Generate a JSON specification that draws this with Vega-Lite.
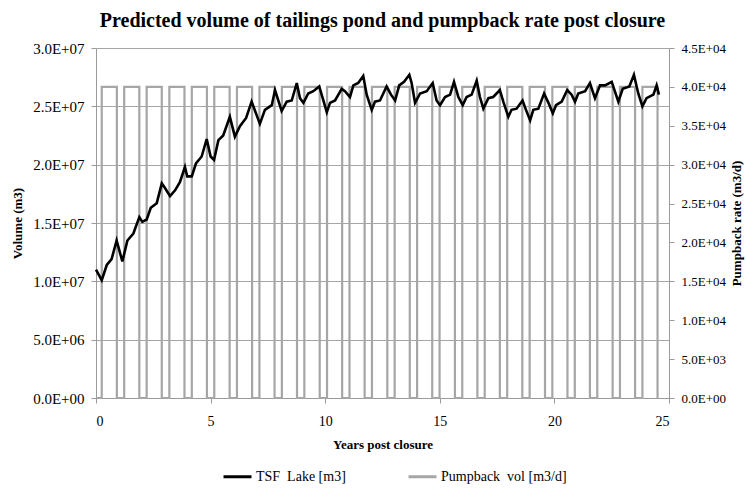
{
  "$schema": "https://vega.github.io/schema/vega-lite/v6.json",
  "autosize": {"type": "none"},
  "width": 573,
  "height": 350,
  "padding": {"left": 96, "top": 48, "right": 77, "bottom": 90},
  "background": "white",
  "title": {
    "text": "Predicted volume of tailings pond and pumpback rate post closure",
    "font": "Liberation Serif",
    "fontSize": 20,
    "fontWeight": "bold",
    "color": "black",
    "anchor": "middle",
    "offset": 10
  },
  "config": {
    "view": {"stroke": null},
    "font": "Liberation Serif",
    "axis": {
      "labelFont": "Liberation Serif",
      "labelFontSize": 14,
      "labelColor": "black",
      "titleFont": "Liberation Serif",
      "titleFontSize": 13,
      "titleFontWeight": "bold",
      "titleColor": "black",
      "domainColor": "#9a9a9a",
      "tickColor": "#9a9a9a",
      "gridColor": "#a6a6a6",
      "tickSize": 5
    },
    "legend": {
      "labelFont": "Liberation Serif",
      "labelFontSize": 14,
      "labelColor": "black"
    }
  },
  "datasets": {
    "tsf": [
      {"year": 0, "volume": 11000000}, {"year": 0.25, "volume": 10100000}, {"year": 0.47, "volume": 11400000},
      {"year": 0.68, "volume": 11900000}, {"year": 0.9, "volume": 13500000}, {"year": 1.15, "volume": 11700000},
      {"year": 1.37, "volume": 13500000}, {"year": 1.63, "volume": 14100000}, {"year": 1.89, "volume": 15500000},
      {"year": 2.02, "volume": 15100000}, {"year": 2.21, "volume": 15300000}, {"year": 2.39, "volume": 16300000},
      {"year": 2.65, "volume": 16700000}, {"year": 2.87, "volume": 18400000}, {"year": 3.01, "volume": 18000000},
      {"year": 3.23, "volume": 17300000}, {"year": 3.45, "volume": 17800000}, {"year": 3.66, "volume": 18500000},
      {"year": 3.88, "volume": 19800000}, {"year": 3.98, "volume": 19000000}, {"year": 4.18, "volume": 19000000},
      {"year": 4.36, "volume": 20100000}, {"year": 4.61, "volume": 20700000}, {"year": 4.83, "volume": 22200000},
      {"year": 5.0, "volume": 20700000}, {"year": 5.15, "volume": 20400000}, {"year": 5.34, "volume": 22100000},
      {"year": 5.55, "volume": 22500000}, {"year": 5.84, "volume": 24100000}, {"year": 6.06, "volume": 22400000},
      {"year": 6.28, "volume": 23300000}, {"year": 6.55, "volume": 24000000}, {"year": 6.79, "volume": 25400000},
      {"year": 7.15, "volume": 23500000}, {"year": 7.37, "volume": 24700000}, {"year": 7.67, "volume": 25100000},
      {"year": 7.81, "volume": 26400000}, {"year": 8.1, "volume": 24600000}, {"year": 8.32, "volume": 25400000},
      {"year": 8.54, "volume": 25500000}, {"year": 8.76, "volume": 27000000}, {"year": 8.9, "volume": 25700000},
      {"year": 9.05, "volume": 25300000}, {"year": 9.26, "volume": 26100000}, {"year": 9.48, "volume": 26300000},
      {"year": 9.74, "volume": 26700000}, {"year": 9.89, "volume": 25700000}, {"year": 10.07, "volume": 24500000},
      {"year": 10.21, "volume": 25300000}, {"year": 10.43, "volume": 25500000}, {"year": 10.72, "volume": 26500000},
      {"year": 10.86, "volume": 26300000}, {"year": 11.08, "volume": 25800000}, {"year": 11.23, "volume": 26800000},
      {"year": 11.44, "volume": 27000000}, {"year": 11.66, "volume": 27600000}, {"year": 11.81, "volume": 26000000},
      {"year": 12.03, "volume": 24700000}, {"year": 12.17, "volume": 25400000}, {"year": 12.39, "volume": 25500000},
      {"year": 12.68, "volume": 26700000}, {"year": 12.87, "volume": 26000000}, {"year": 13.05, "volume": 25500000},
      {"year": 13.23, "volume": 26800000}, {"year": 13.44, "volume": 27100000}, {"year": 13.67, "volume": 27700000},
      {"year": 13.77, "volume": 27000000}, {"year": 13.92, "volume": 25300000}, {"year": 14.14, "volume": 26100000},
      {"year": 14.43, "volume": 26300000}, {"year": 14.69, "volume": 27000000}, {"year": 14.86, "volume": 25500000},
      {"year": 15.01, "volume": 25100000}, {"year": 15.23, "volume": 25800000}, {"year": 15.45, "volume": 26000000},
      {"year": 15.62, "volume": 27100000}, {"year": 15.81, "volume": 25800000}, {"year": 16.0, "volume": 25100000},
      {"year": 16.17, "volume": 25800000}, {"year": 16.39, "volume": 26000000}, {"year": 16.61, "volume": 27200000},
      {"year": 16.75, "volume": 25800000}, {"year": 16.9, "volume": 24800000}, {"year": 17.12, "volume": 25700000},
      {"year": 17.33, "volume": 25800000}, {"year": 17.62, "volume": 26400000}, {"year": 17.77, "volume": 25400000},
      {"year": 17.99, "volume": 24100000}, {"year": 18.13, "volume": 24700000}, {"year": 18.35, "volume": 24800000},
      {"year": 18.61, "volume": 25500000}, {"year": 18.76, "volume": 24700000}, {"year": 18.94, "volume": 23800000},
      {"year": 19.08, "volume": 24700000}, {"year": 19.3, "volume": 24800000}, {"year": 19.55, "volume": 26100000},
      {"year": 19.74, "volume": 25300000}, {"year": 19.93, "volume": 24400000}, {"year": 20.07, "volume": 25100000},
      {"year": 20.32, "volume": 25400000}, {"year": 20.56, "volume": 26400000}, {"year": 20.75, "volume": 26000000},
      {"year": 20.9, "volume": 25400000}, {"year": 21.04, "volume": 26100000}, {"year": 21.34, "volume": 26300000},
      {"year": 21.55, "volume": 27000000}, {"year": 21.77, "volume": 25700000}, {"year": 21.99, "volume": 26800000},
      {"year": 22.21, "volume": 26800000}, {"year": 22.5, "volume": 27100000}, {"year": 22.79, "volume": 25400000},
      {"year": 22.98, "volume": 26500000}, {"year": 23.27, "volume": 26700000}, {"year": 23.47, "volume": 27700000},
      {"year": 23.66, "volume": 26100000}, {"year": 23.84, "volume": 25000000}, {"year": 24.02, "volume": 25700000},
      {"year": 24.32, "volume": 26000000}, {"year": 24.46, "volume": 26800000}, {"year": 24.56, "volume": 26000000}
    ],
    "pump": [
      {"i": 0, "year": 0, "rate": 0},
      {"i": 1, "year": 0.25, "rate": 0}, {"i": 2, "year": 0.25, "rate": 40000}, {"i": 3, "year": 0.91, "rate": 40000}, {"i": 4, "year": 0.91, "rate": 0},
      {"i": 5, "year": 1.23, "rate": 0}, {"i": 6, "year": 1.23, "rate": 40000}, {"i": 7, "year": 1.89, "rate": 40000}, {"i": 8, "year": 1.89, "rate": 0},
      {"i": 9, "year": 2.21, "rate": 0}, {"i": 10, "year": 2.21, "rate": 40000}, {"i": 11, "year": 2.87, "rate": 40000}, {"i": 12, "year": 2.87, "rate": 0},
      {"i": 13, "year": 3.2, "rate": 0}, {"i": 14, "year": 3.2, "rate": 40000}, {"i": 15, "year": 3.86, "rate": 40000}, {"i": 16, "year": 3.86, "rate": 0},
      {"i": 17, "year": 4.18, "rate": 0}, {"i": 18, "year": 4.18, "rate": 40000}, {"i": 19, "year": 4.84, "rate": 40000}, {"i": 20, "year": 4.84, "rate": 0},
      {"i": 21, "year": 5.16, "rate": 0}, {"i": 22, "year": 5.16, "rate": 40000}, {"i": 23, "year": 5.83, "rate": 40000}, {"i": 24, "year": 5.83, "rate": 0},
      {"i": 25, "year": 6.15, "rate": 0}, {"i": 26, "year": 6.15, "rate": 40000}, {"i": 27, "year": 6.81, "rate": 40000}, {"i": 28, "year": 6.81, "rate": 0},
      {"i": 29, "year": 7.13, "rate": 0}, {"i": 30, "year": 7.13, "rate": 40000}, {"i": 31, "year": 7.79, "rate": 40000}, {"i": 32, "year": 7.79, "rate": 0},
      {"i": 33, "year": 8.11, "rate": 0}, {"i": 34, "year": 8.11, "rate": 40000}, {"i": 35, "year": 8.77, "rate": 40000}, {"i": 36, "year": 8.77, "rate": 0},
      {"i": 37, "year": 9.09, "rate": 0}, {"i": 38, "year": 9.09, "rate": 40000}, {"i": 39, "year": 9.76, "rate": 40000}, {"i": 40, "year": 9.76, "rate": 0},
      {"i": 41, "year": 10.08, "rate": 0}, {"i": 42, "year": 10.08, "rate": 40000}, {"i": 43, "year": 10.74, "rate": 40000}, {"i": 44, "year": 10.74, "rate": 0},
      {"i": 45, "year": 11.06, "rate": 0}, {"i": 46, "year": 11.06, "rate": 40000}, {"i": 47, "year": 11.72, "rate": 40000}, {"i": 48, "year": 11.72, "rate": 0},
      {"i": 49, "year": 12.04, "rate": 0}, {"i": 50, "year": 12.04, "rate": 40000}, {"i": 51, "year": 12.71, "rate": 40000}, {"i": 52, "year": 12.71, "rate": 0},
      {"i": 53, "year": 13.03, "rate": 0}, {"i": 54, "year": 13.03, "rate": 40000}, {"i": 55, "year": 13.69, "rate": 40000}, {"i": 56, "year": 13.69, "rate": 0},
      {"i": 57, "year": 14.01, "rate": 0}, {"i": 58, "year": 14.01, "rate": 40000}, {"i": 59, "year": 14.67, "rate": 40000}, {"i": 60, "year": 14.67, "rate": 0},
      {"i": 61, "year": 14.99, "rate": 0}, {"i": 62, "year": 14.99, "rate": 40000}, {"i": 63, "year": 15.66, "rate": 40000}, {"i": 64, "year": 15.66, "rate": 0},
      {"i": 65, "year": 15.98, "rate": 0}, {"i": 66, "year": 15.98, "rate": 40000}, {"i": 67, "year": 16.64, "rate": 40000}, {"i": 68, "year": 16.64, "rate": 0},
      {"i": 69, "year": 16.96, "rate": 0}, {"i": 70, "year": 16.96, "rate": 40000}, {"i": 71, "year": 17.62, "rate": 40000}, {"i": 72, "year": 17.62, "rate": 0},
      {"i": 73, "year": 17.94, "rate": 0}, {"i": 74, "year": 17.94, "rate": 40000}, {"i": 75, "year": 18.6, "rate": 40000}, {"i": 76, "year": 18.6, "rate": 0},
      {"i": 77, "year": 18.92, "rate": 0}, {"i": 78, "year": 18.92, "rate": 40000}, {"i": 79, "year": 19.59, "rate": 40000}, {"i": 80, "year": 19.59, "rate": 0},
      {"i": 81, "year": 19.91, "rate": 0}, {"i": 82, "year": 19.91, "rate": 40000}, {"i": 83, "year": 20.57, "rate": 40000}, {"i": 84, "year": 20.57, "rate": 0},
      {"i": 85, "year": 20.89, "rate": 0}, {"i": 86, "year": 20.89, "rate": 40000}, {"i": 87, "year": 21.55, "rate": 40000}, {"i": 88, "year": 21.55, "rate": 0},
      {"i": 89, "year": 21.87, "rate": 0}, {"i": 90, "year": 21.87, "rate": 40000}, {"i": 91, "year": 22.54, "rate": 40000}, {"i": 92, "year": 22.54, "rate": 0},
      {"i": 93, "year": 22.86, "rate": 0}, {"i": 94, "year": 22.86, "rate": 40000}, {"i": 95, "year": 23.52, "rate": 40000}, {"i": 96, "year": 23.52, "rate": 0},
      {"i": 97, "year": 23.84, "rate": 0}, {"i": 98, "year": 23.84, "rate": 40000}, {"i": 99, "year": 24.5, "rate": 40000}, {"i": 100, "year": 24.5, "rate": 0}
    ]
  },
  "encoding": {
    "x": {
      "field": "year",
      "type": "quantitative",
      "scale": {"domain": [0, 25], "nice": false},
      "axis": {
        "title": "Years post closure",
        "values": [0, 5, 10, 15, 20, 25],
        "grid": false,
        "labelFont": "Liberation Serif",
        "labelFontSize": 14,
        "titleFont": "Liberation Serif",
        "labelPadding": 11,
        "titlePadding": 10
      }
    }
  },
  "layer": [
    {
      "data": {"name": "pump"},
      "mark": {"type": "line", "strokeWidth": 2.2, "interpolate": "linear"},
      "encoding": {
        "y": {
          "field": "rate",
          "type": "quantitative",
          "scale": {"domain": [0, 45000], "nice": false},
          "axis": {
            "orient": "right",
            "title": "Pumpback rate (m3/d)",
            "titleAngle": 270,
            "titleBaseline": "top",
            "values": [0, 5000, 10000, 15000, 20000, 25000, 30000, 35000, 40000, 45000],
            "labelExpr": "datum.value == 0 ? '0.0E+00' : (datum.value < 10000 ? format(datum.value/1000, '.1f') + 'E+03' : format(datum.value/10000, '.1f') + 'E+04')",
            "grid": false,
            "labelFont": "Liberation Serif",
            "labelFontSize": 13,
            "titleFont": "Liberation Serif",
            "labelPadding": 7,
            "titlePadding": 5
          }
        },
        "order": {"field": "i", "type": "quantitative"},
        "color": {
          "datum": "Pumpback\u00a0 vol [m3/d]",
          "type": "nominal",
          "scale": {"domain": ["TSF\u00a0 Lake [m3]", "Pumpback\u00a0 vol [m3/d]"], "range": ["#000000", "#a6a6a6"]},
          "legend": {
            "title": null,
            "orient": "none",
            "legendX": 126,
            "legendY": 413,
            "direction": "horizontal",
            "symbolType": "stroke",
            "symbolStrokeWidth": 3,
            "symbolSize": 784,
            "labelOffset": 3,
            "columnPadding": 56,
            "labelFont": "Liberation Serif",
            "labelFontSize": 14
          }
        }
      }
    },
    {
      "data": {"name": "tsf"},
      "mark": {"type": "line", "strokeWidth": 2.6, "color": "black"},
      "encoding": {
        "y": {
          "field": "volume",
          "type": "quantitative",
          "scale": {"domain": [0, 30000000], "nice": false},
          "axis": {
            "orient": "left",
            "title": "Volume (m3)",
            "values": [0, 5000000, 10000000, 15000000, 20000000, 25000000, 30000000],
            "labelExpr": "datum.value == 0 ? '0.0E+00' : (datum.value < 10000000 ? format(datum.value/1000000, '.1f') + 'E+06' : format(datum.value/10000000, '.1f') + 'E+07')",
            "grid": true,
            "labelFont": "Liberation Serif",
            "labelFontSize": 15,
            "titleFont": "Liberation Serif",
            "labelPadding": 7,
            "titlePadding": 8
          }
        },
        "color": {"datum": "TSF\u00a0 Lake [m3]", "type": "nominal"}
      }
    }
  ],
  "resolve": {"scale": {"y": "independent"}}
}
